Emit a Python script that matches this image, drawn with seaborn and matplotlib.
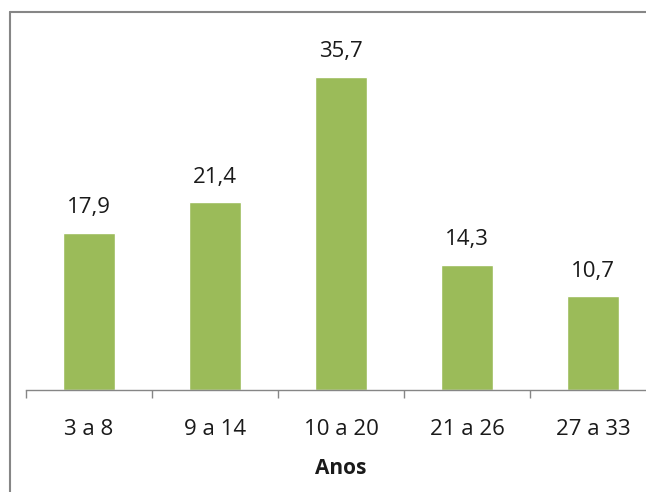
import matplotlib
matplotlib.use('Agg')
import matplotlib.pyplot as plt
import seaborn as sns
import pandas as pd

faixas = ['3 a 8', '9 a 14', '10 a 20', '21 a 26', '27 a 33']
percentuais = [17.9, 21.4, 35.7, 14.3, 10.7]

df = pd.DataFrame({'faixa': faixas, 'pct': percentuais})

sns.set_style('white')
plt.rcParams['font.family'] = ['Open Sans', 'DejaVu Sans']

verde = '#9bbb59'
cinza = '#868686'
texto = '#1a1a1a'

fig = plt.figure(figsize=(6.46, 4.92), dpi=100)
ax = fig.add_axes([26 / 646, 102 / 492, 630 / 646, 351 / 492])

sns.barplot(data=df, x='faixa', y='pct', color=verde, width=0.41,
            saturation=1, ax=ax)

ax.set_ylim(0, 40)
ax.set_xlim(-0.5, len(faixas) - 0.5)

for i, v in enumerate(percentuais):
    ax.annotate(f'{v:.1f}'.replace('.', ','), (i, v), xytext=(0, 14),
                textcoords='offset points', ha='center', va='baseline',
                fontsize=16, color=texto)

for s in ['top', 'right', 'left']:
    ax.spines[s].set_visible(False)
ax.spines['bottom'].set_color(cinza)
ax.spines['bottom'].set_linewidth(1)

ax.set_yticks([])
ax.set_xticks([i - 0.5 for i in range(len(faixas) + 1)], minor=False)
ax.set_xticklabels([])
ax.set_xticks(range(len(faixas)), minor=True)
ax.set_xticklabels(faixas, minor=True, fontsize=16, color=texto)
ax.tick_params(axis='x', which='major', direction='out', length=6,
               width=1, color=cinza, bottom=True)
ax.tick_params(axis='x', which='minor', length=0, pad=21)

ax.set_ylabel('')
ax.set_xlabel('Anos', fontsize=15, fontweight='bold', color=texto,
              labelpad=13)

# moldura do grafico (so esquerda e topo aparecem)
x0 = 10 / 646
y0 = 1 - 12 / 492
fig.add_artist(plt.Line2D([x0, x0], [0, y0], transform=fig.transFigure,
                          color=cinza, linewidth=1.5))
fig.add_artist(plt.Line2D([x0, 1], [y0, y0], transform=fig.transFigure,
                          color=cinza, linewidth=1.5))

fig.savefig('out.png', dpi=100)
